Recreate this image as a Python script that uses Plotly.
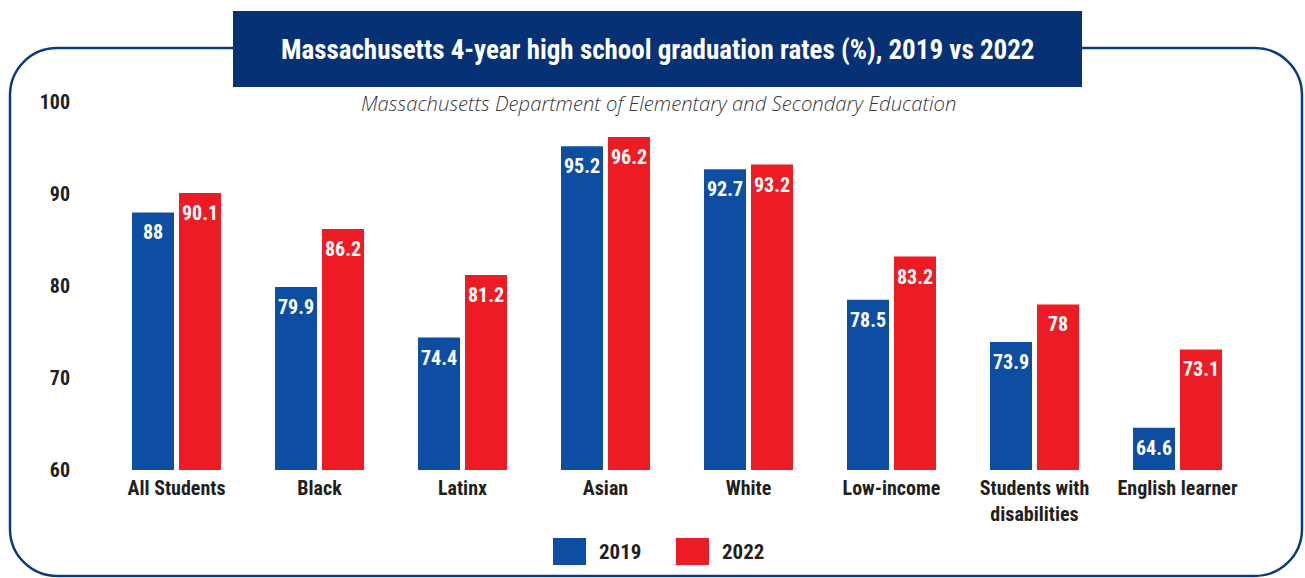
import plotly.graph_objects as go

categories = ["All Students", "Black", "Latinx", "Asian", "White", "Low-income",
              "Students with<br>disabilities", "English learner"]
series_names = ["2019", "2022"]
values_2019 = [88, 79.9, 74.4, 95.2, 92.7, 78.5, 73.9, 64.6]
values_2022 = [90.1, 86.2, 81.2, 96.2, 93.2, 83.2, 78, 73.1]
y_ticks = [60, 70, 80, 90, 100]

BLUE = "#0d4ea3"
RED = "#ed1c24"
NAVY = "#063174"
TEXT = "#231f20"
FONT = "Roboto Condensed, DejaVu Sans Condensed, sans-serif"

W, H = 1305, 578
ML, MR, MT, MB = 105, 56, 102, 108
PW, PH = W - ML - MR, H - MT - MB
BARGAP = 0.343
BARGROUPGAP = 0.106


def px(x):
    return (x - ML) / PW


def py(y):
    return (H - MB - y) / PH


fig = go.Figure()
series = [(series_names[0], values_2019, BLUE), (series_names[1], values_2022, RED)]
for name, vals, col in series:
    fig.add_trace(go.Bar(
        x=categories, y=vals, name=name, marker=dict(color=col, line=dict(width=0)),
        showlegend=False, cliponaxis=False, hoverinfo="x+y+name",
    ))

# value labels inside the top of each bar
band = PW / len(categories)
slot = band * (1 - BARGAP) / len(series)
annotations = []
for si, (name, vals, col) in enumerate(series):
    shift = (si - (len(series) - 1) / 2) * slot
    for c, v in zip(categories, vals):
        annotations.append(dict(
            text=f"{v:g}", x=c, y=v, xref="x", yref="y", showarrow=False,
            xanchor="center", yanchor="top", xshift=shift, yshift=-6,
            font=dict(family=FONT, size=20, color="white", weight="bold")))

# rounded border
L, R, T, B, r = 10, 1302, 48, 576, 47
k = 0.5523 * r
path = (
    f"M {px(L+r)},{py(T)} L {px(R-r)},{py(T)} "
    f"C {px(R-r+k)},{py(T)} {px(R)},{py(T+r-k)} {px(R)},{py(T+r)} "
    f"L {px(R)},{py(B-r)} "
    f"C {px(R)},{py(B-r+k)} {px(R-r+k)},{py(B)} {px(R-r)},{py(B)} "
    f"L {px(L+r)},{py(B)} "
    f"C {px(L+r-k)},{py(B)} {px(L)},{py(B-r+k)} {px(L)},{py(B-r)} "
    f"L {px(L)},{py(T+r)} "
    f"C {px(L)},{py(T+r-k)} {px(L+r-k)},{py(T)} {px(L+r)},{py(T)} Z"
)
shapes = [
    dict(type="path", xref="paper", yref="paper", path=path,
         line=dict(color="#0b3a82", width=2.5), fillcolor="rgba(0,0,0,0)", layer="below"),
    dict(type="rect", xref="paper", yref="paper", x0=px(233), x1=px(1082), y0=py(11), y1=py(87),
         fillcolor=NAVY, line=dict(width=0), layer="above"),
]
annotations += [
    dict(text="Massachusetts 4-year high school graduation rates (%), 2019 vs 2022",
         xref="paper", yref="paper", x=px(657), y=py(50), showarrow=False,
         font=dict(family=FONT, size=27, color="white", weight="bold"),
         xanchor="center", yanchor="middle"),
    dict(text="Massachusetts Department of Elementary and Secondary Education",
         xref="paper", yref="paper", x=px(658), y=py(103), showarrow=False,
         font=dict(family="Open Sans", size=20.3, color="#3a3a3a", style="italic", weight=300),
         xanchor="center", yanchor="middle"),
]
# custom legend
leg = [(series_names[0], BLUE, 553, 597), (series_names[1], RED, 676, 720)]
for name, col, x0, tx in leg:
    shapes.append(dict(type="rect", xref="paper", yref="paper", x0=px(x0), x1=px(x0 + 33),
                       y0=py(538), y1=py(565), fillcolor=col, line=dict(width=0)))
    annotations.append(dict(text=name, xref="paper", yref="paper", x=px(tx), y=py(552),
                            showarrow=False, xanchor="left", yanchor="middle",
                            font=dict(family=FONT, size=21, color=TEXT, weight="bold")))

fig.update_layout(
    width=W, height=H, margin=dict(l=ML, r=MR, t=MT, b=MB),
    paper_bgcolor="white", plot_bgcolor="white",
    barmode="group", bargap=BARGAP, bargroupgap=BARGROUPGAP,
    shapes=shapes, annotations=annotations, showlegend=False,
    xaxis=dict(showline=False, showgrid=False, zeroline=False, ticks="",
               tickfont=dict(family=FONT, size=20, color=TEXT, weight="bold"),
               ticklabelstandoff=4),
    yaxis=dict(range=[60, 100], tickvals=y_ticks, showline=False, showgrid=False,
               zeroline=False, ticks="", ticklabelstandoff=34,
               tickfont=dict(family=FONT, size=20, color=TEXT, weight="bold")),
)
fig.write_html("out.html", config={"displayModeBar": False},
               post_script="document.body.style.margin='0px';")
